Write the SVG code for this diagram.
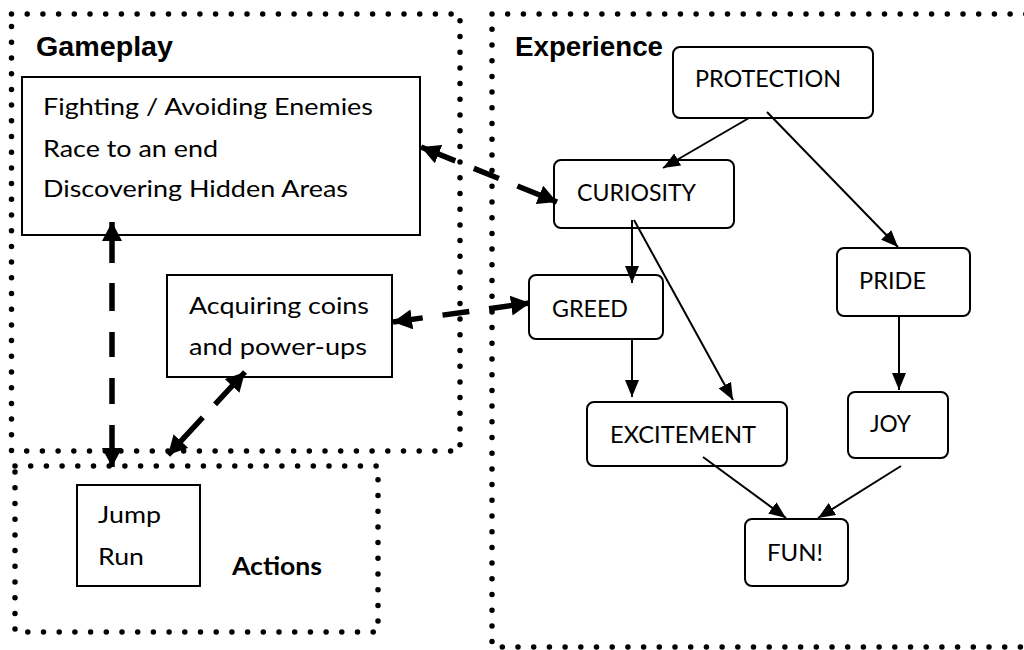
<svg xmlns="http://www.w3.org/2000/svg" width="1024" height="650" viewBox="0 0 1024 650">
<style>
.frame{fill:none;stroke:#000;stroke-width:5.5;stroke-linecap:round;stroke-dasharray:0 15.7}
.box{fill:#fff;stroke:#000;stroke-width:2}
.rbox{fill:#fff;stroke:#000;stroke-width:2}
.t{font-family:Lato,"Open Sans",sans-serif;font-size:23px;fill:#000}
.h{font-family:"Liberation Sans",Arial,sans-serif;font-size:28px;font-weight:bold;fill:#000}
.hb{font-family:Lato,"Open Sans",sans-serif;font-size:25px;font-weight:bold;fill:#000}
.thin{fill:none;stroke:#000;stroke-width:2;marker-end:url(#thin)}
.thick{fill:none;stroke:#000;stroke-width:5.5;marker-start:url(#thick);marker-end:url(#thick)}
</style>
<defs>
<marker id="thin" markerWidth="17" markerHeight="14" refX="17" refY="7" orient="auto" markerUnits="userSpaceOnUse"><path d="M0,0 L17,7 L0,14 z" fill="#000"/></marker>
<marker id="thick" markerWidth="20" markerHeight="20" refX="19" refY="10" orient="auto-start-reverse" markerUnits="userSpaceOnUse"><path d="M0,0 L19,10 L0,20 z" fill="#000"/></marker>
</defs>
<rect width="1024" height="650" fill="#fff"/>

<g id="frame-gameplay">
<rect class="frame" x="11.5" y="14" width="448.5" height="437"/>
<text class="h" x="36" y="56" textLength="137" lengthAdjust="spacingAndGlyphs">Gameplay</text>
</g>
<g id="frame-actions">
<rect class="frame" x="15" y="466" width="363" height="166"/>
<text class="hb" x="232" y="575" textLength="90" lengthAdjust="spacingAndGlyphs">Actions</text>
</g>
<g id="frame-experience">
<rect class="frame" x="492" y="14" width="560" height="633"/>
<text class="h" x="515" y="56" textLength="148" lengthAdjust="spacingAndGlyphs">Experience</text>
</g>

<g id="node-gameplay-list">
<rect class="box" x="22" y="77" width="398" height="158"/>
<text class="t" x="43" y="115" textLength="330" lengthAdjust="spacingAndGlyphs">Fighting / Avoiding Enemies</text>
<text class="t" x="43" y="157" textLength="175" lengthAdjust="spacingAndGlyphs">Race to an end</text>
<text class="t" x="43" y="197" textLength="305" lengthAdjust="spacingAndGlyphs">Discovering Hidden Areas</text>
</g>
<g id="node-acquiring">
<rect class="box" x="167" y="275" width="225" height="102"/>
<text class="t" x="189" y="314" textLength="180" lengthAdjust="spacingAndGlyphs">Acquiring coins</text>
<text class="t" x="189" y="355" textLength="178" lengthAdjust="spacingAndGlyphs">and power-ups</text>
</g>
<g id="node-jumprun">
<rect class="box" x="77" y="485" width="123" height="101"/>
<text class="t" x="98" y="523" textLength="63" lengthAdjust="spacingAndGlyphs">Jump</text>
<text class="t" x="98" y="565" textLength="46" lengthAdjust="spacingAndGlyphs">Run</text>
</g>

<g id="node-protection">
<rect class="rbox" x="673" y="47" width="200" height="71" rx="7"/>
<text class="t" x="695" y="87" textLength="146" lengthAdjust="spacingAndGlyphs">PROTECTION</text>
</g>
<g id="node-curiosity">
<rect class="rbox" x="554" y="160" width="180" height="68" rx="7"/>
<text class="t" x="577" y="201" textLength="119" lengthAdjust="spacingAndGlyphs">CURIOSITY</text>
</g>
<g id="node-pride">
<rect class="rbox" x="837" y="248" width="133" height="68" rx="7"/>
<text class="t" x="859" y="289" textLength="67" lengthAdjust="spacingAndGlyphs">PRIDE</text>
</g>
<g id="node-greed">
<rect class="rbox" x="529" y="275" width="134" height="64" rx="7"/>
<text class="t" x="552" y="317" textLength="76" lengthAdjust="spacingAndGlyphs">GREED</text>
</g>
<g id="node-excitement">
<rect class="rbox" x="587" y="402" width="200" height="64" rx="7"/>
<text class="t" x="610" y="443" textLength="146" lengthAdjust="spacingAndGlyphs">EXCITEMENT</text>
</g>
<g id="node-joy">
<rect class="rbox" x="848" y="392" width="100" height="66" rx="7"/>
<text class="t" x="870" y="432" textLength="41" lengthAdjust="spacingAndGlyphs">JOY</text>
</g>
<g id="node-fun">
<rect class="rbox" x="745" y="519" width="103" height="67" rx="7"/>
<text class="t" x="767" y="561" textLength="56" lengthAdjust="spacingAndGlyphs">FUN!</text>
</g>

<g id="connectors">
<path class="thin" d="M749,118 L663,168"/>
<path class="thin" d="M767,112 L898,247"/>
<path class="thin" d="M632,220 L632,283"/>
<path class="thin" d="M634,220 L733,400"/>
<path class="thin" d="M632,339 L632,397"/>
<path class="thin" d="M899,316 L899,390"/>
<path class="thin" d="M703,457 L786,518"/>
<path class="thin" d="M901,466 L818,518"/>
<path class="thick" d="M421,147 L557,202" stroke-dasharray="37 20 27 20 43"/>
<path class="thick" d="M393,322 L530,303" stroke-dasharray="30 20 27 20 41"/>
<path class="thick" d="M112,222 L112,467" stroke-dasharray="41 20 28 21 25 21 26 21 42"/>
<path class="thick" d="M245,372 L168,455" stroke-dasharray="44 18 51"/>
</g>
</svg>
